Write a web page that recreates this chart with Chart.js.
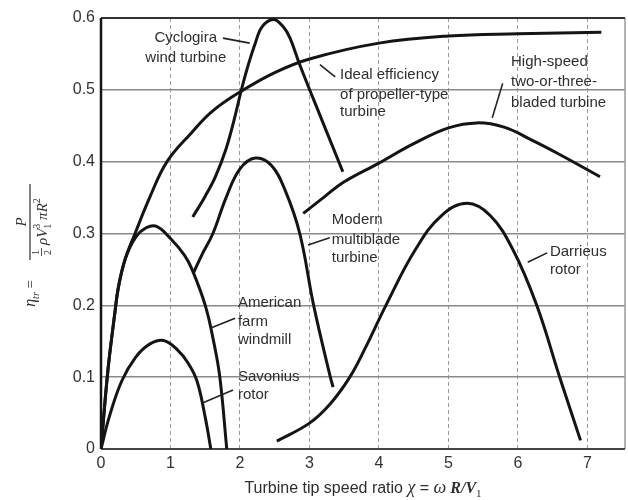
<!DOCTYPE html>
<html>
<head>
<meta charset="utf-8">
<script src="https://cdn.jsdelivr.net/npm/chart.js@4/dist/chart.umd.min.js"></script>
<style>
  body { margin: 0; background: #fff; }
  #c { display: block; }
</style>
</head>
<body>
<canvas id="c" width="628" height="500"></canvas>
<script>
// tick labels
var xTicks = [0, 1, 2, 3, 4, 5, 6, 7];
var yTicks = [0, 0.1, 0.2, 0.3, 0.4, 0.5, 0.6];

// curves, [tip speed ratio, efficiency]
var idealPropeller = [[0, 0], [0.1, 0.11], [0.2, 0.19], [0.25, 0.225], [0.35, 0.265], [0.49, 0.3], [0.7, 0.35],
  [0.95, 0.4], [1.3, 0.44], [1.6, 0.47], [2.0, 0.497], [2.5, 0.524], [3, 0.543], [4, 0.565], [5, 0.575],
  [6, 0.578], [7.2, 0.58]];
var cyclogira = [[1.32, 0.323], [1.5, 0.352], [1.65, 0.38], [1.8, 0.418], [1.92, 0.46], [2.02, 0.5],
  [2.12, 0.535], [2.22, 0.565], [2.32, 0.588], [2.48, 0.598], [2.62, 0.588], [2.72, 0.572], [2.86, 0.535],
  [3.17, 0.46], [3.48, 0.386]];
var highSpeed = [[2.91, 0.328], [3.2, 0.35], [3.5, 0.372], [4, 0.398], [4.5, 0.425], [5, 0.447], [5.41, 0.454],
  [5.8, 0.448], [6.2, 0.43], [6.6, 0.41], [7.18, 0.379]];
var multiblade = [[1.33, 0.245], [1.45, 0.27], [1.61, 0.3], [1.8, 0.35], [2.0, 0.39], [2.22, 0.405], [2.45, 0.395],
  [2.65, 0.36], [2.86, 0.3], [3.06, 0.2], [3.3, 0.1], [3.34, 0.086]];
var darrieus = [[2.53, 0.011], [3, 0.036], [3.3, 0.063], [3.58, 0.1], [3.8, 0.14], [4.1, 0.2], [4.52, 0.277],
  [4.9, 0.325], [5.27, 0.342], [5.6, 0.325], [5.93, 0.277], [6.27, 0.2], [6.6, 0.1], [6.9, 0.012]];
var farmWindmill = [[0, 0], [0.1, 0.11], [0.2, 0.19], [0.25, 0.225], [0.35, 0.265], [0.5, 0.295], [0.65, 0.308],
  [0.8, 0.31], [1.0, 0.293], [1.2, 0.27], [1.31, 0.25], [1.5, 0.2], [1.62, 0.15], [1.71, 0.1], [1.81, 0]];
var savonius = [[0, 0], [0.12, 0.045], [0.3, 0.095], [0.5, 0.128], [0.7, 0.146], [0.9, 0.151], [1.1, 0.138],
  [1.25, 0.12], [1.38, 0.095], [1.5, 0.044], [1.58, 0]];

// curve labels with leader lines (data coords)
var notes = [
  { lines: ['Cyclogira', 'wind turbine'], x: 1.22, y: [0.572, 0.544], align: 'center', lead: [1.755, 0.572, 2.14, 0.565] },
  { lines: ['Ideal efficiency', 'of propeller-type', 'turbine'], x: 3.44, y: [0.521, 0.493, 0.469], align: 'left', lead: [3.37, 0.518, 3.15, 0.535] },
  { lines: ['High-speed', 'two-or-three-', 'bladed turbine'], x: 5.9, y: [0.539, 0.511, 0.482], align: 'left', lead: [5.78, 0.509, 5.63, 0.461] },
  { lines: ['Modern', 'multiblade', 'turbine'], x: 3.32, y: [0.319, 0.291, 0.266], align: 'left', lead: [3.29, 0.294, 2.98, 0.284] },
  { lines: ['Darrieus', 'rotor'], x: 6.46, y: [0.274, 0.249], align: 'left', lead: [6.42, 0.273, 6.14, 0.26] },
  { lines: ['American', 'farm', 'windmill'], x: 1.97, y: [0.204, 0.177, 0.152], align: 'left', lead: [1.93, 0.182, 1.57, 0.168] },
  { lines: ['Savonius', 'rotor'], x: 1.97, y: [0.1, 0.075], align: 'left', lead: [1.9, 0.082, 1.46, 0.064] }
];

var ink = '#141414';
var textCol = '#2e2e2e';
var sans = '"Liberation Sans", Arial, sans-serif';
var serif = '"Liberation Serif", "Times New Roman", serif';

function toPts(arr) {
  return arr.map(function(p) { return { x: p[0], y: p[1] }; });
}

function curve(name, arr) {
  return {
    label: name,
    data: toPts(arr),
    showLine: true,
    borderColor: ink,
    borderWidth: 3,
    pointRadius: 0,
    tension: 0.4,
    fill: false
  };
}

// draws a row of text pieces with their own font and vertical shift
function drawRuns(ctx, runs, x, y) {
  runs.forEach(function(r) {
    ctx.font = r.font;
    ctx.fillText(r.t, x, y + (r.dy || 0));
    if (!r.noAdvance) x += ctx.measureText(r.t).width;
  });
  return x;
}
function runsWidth(ctx, runs) {
  var w = 0;
  runs.forEach(function(r) {
    ctx.font = r.font;
    if (!r.noAdvance) w += ctx.measureText(r.t).width;
  });
  return w;
}

var decor = {
  id: 'decor',
  beforeDatasetsDraw: function(chart) {
    var ctx = chart.ctx, a = chart.chartArea;
    ctx.save();
    // frame
    ctx.strokeStyle = '#9a9a9a';
    ctx.lineWidth = 1.5;
    ctx.beginPath(); ctx.moveTo(a.right, a.top); ctx.lineTo(a.right, a.bottom); ctx.stroke();
    ctx.strokeStyle = '#333';
    ctx.lineWidth = 2;
    ctx.beginPath(); ctx.moveTo(a.left, a.top); ctx.lineTo(a.right, a.top); ctx.stroke();
    ctx.strokeStyle = '#444';
    ctx.beginPath(); ctx.moveTo(a.left, a.bottom); ctx.lineTo(a.right, a.bottom); ctx.stroke();
    ctx.strokeStyle = ink;
    ctx.lineWidth = 2.5;
    ctx.beginPath(); ctx.moveTo(a.left, a.top); ctx.lineTo(a.left, a.bottom); ctx.stroke();
    ctx.restore();
  },
  afterDatasetsDraw: function(chart) {
    var ctx = chart.ctx, xs = chart.scales.x, ys = chart.scales.y;
    ctx.save();
    // curve labels
    ctx.fillStyle = textCol;
    ctx.font = '15px ' + sans;
    ctx.textBaseline = 'middle';
    notes.forEach(function(n) {
      ctx.textAlign = n.align;
      n.lines.forEach(function(line, i) {
        ctx.fillText(line, xs.getPixelForValue(n.x), ys.getPixelForValue(n.y[i]));
      });
      ctx.strokeStyle = '#222';
      ctx.lineWidth = 1.6;
      ctx.beginPath();
      ctx.moveTo(xs.getPixelForValue(n.lead[0]), ys.getPixelForValue(n.lead[1]));
      ctx.lineTo(xs.getPixelForValue(n.lead[2]), ys.getPixelForValue(n.lead[3]));
      ctx.stroke();
    });

    // x axis title
    ctx.textAlign = 'left';
    ctx.textBaseline = 'alphabetic';
    var xr = [
      { t: 'Turbine tip speed ratio ', font: '16px ' + sans },
      { t: 'χ', font: 'italic 18px ' + serif },
      { t: ' = ', font: '16px ' + sans },
      { t: 'ω', font: 'italic 18px ' + serif },
      { t: ' R/V', font: 'italic bold 16px ' + serif },
      { t: '1', font: '11px ' + serif, dy: 4 }
    ];
    var w = runsWidth(ctx, xr);
    drawRuns(ctx, xr, 363 - w / 2, 493);

    // y axis title, rotated
    ctx.translate(30, 222);
    ctx.rotate(-Math.PI / 2);
    ctx.strokeStyle = textCol;
    ctx.lineWidth = 1.2;
    ctx.beginPath(); ctx.moveTo(-38, 0); ctx.lineTo(38, 0); ctx.stroke();
    ctx.textAlign = 'center';
    ctx.font = 'italic 15px ' + serif;
    ctx.fillText('P', 0, -4);
    ctx.textAlign = 'left';
    // ½ stacked
    var dx = -33;
    ctx.font = '10px ' + serif;
    ctx.fillText('1', dx, 9);
    ctx.fillText('2', dx, 21);
    ctx.lineWidth = 0.8;
    ctx.beginPath(); ctx.moveTo(dx - 1, 11.5); ctx.lineTo(dx + 7, 11.5); ctx.stroke();
    var den = [
      { t: 'ρV', font: 'italic 15px ' + serif },
      { t: '3', font: '10px ' + serif, dy: -7, noAdvance: true },
      { t: '1', font: '10px ' + serif, dy: 4 },
      { t: ' π', font: 'italic 15px ' + serif },
      { t: 'R', font: 'italic 15px ' + serif },
      { t: '2', font: '10px ' + serif, dy: -7 }
    ];
    drawRuns(ctx, den, dx + 10, 17);
    var lhs = [
      { t: 'η', font: 'italic 16px ' + serif },
      { t: 'tr', font: 'italic 10px ' + serif, dy: 4 },
      { t: ' =', font: '15px ' + serif }
    ];
    var lw = runsWidth(ctx, lhs);
    drawRuns(ctx, lhs, -58 - lw, 5);
    ctx.restore();
  }
};

var ctx = document.getElementById('c').getContext('2d');
var chart = new Chart(ctx, {
  type: 'scatter',
  data: {
    datasets: [
      curve('Ideal efficiency of propeller-type turbine', idealPropeller),
      curve('Cyclogira wind turbine', cyclogira),
      curve('High-speed two-or-three-bladed turbine', highSpeed),
      curve('Modern multiblade turbine', multiblade),
      curve('Darrieus rotor', darrieus),
      curve('American farm windmill', farmWindmill),
      curve('Savonius rotor', savonius)
    ]
  },
  options: {
    responsive: false,
    animation: false,
    layout: { padding: { top: 18, right: 3, left: 0, bottom: 0 } },
    plugins: {
      legend: { display: false },
      tooltip: { enabled: false }
    },
    scales: {
      x: {
        type: 'linear',
        min: 0,
        max: 7.54,
        afterBuildTicks: function(s) { s.ticks = xTicks.map(function(v) { return { value: v }; }); },
        afterFit: function(s) { s.height = 51; },
        ticks: {
          color: '#333',
          font: { family: sans, size: 16 },
          padding: 5,
          maxRotation: 0,
          callback: function(v) { return String(v); }
        },
        grid: {
          drawTicks: false,
          lineWidth: 1,
          color: function(c) { return c.tick && c.tick.value === 0 ? 'rgba(0,0,0,0)' : '#9a9a9a'; }
        },
        border: { display: false, dash: [4, 3] }
      },
      y: {
        type: 'linear',
        min: 0,
        max: 0.6,
        afterBuildTicks: function(s) { s.ticks = yTicks.map(function(v) { return { value: v }; }); },
        afterFit: function(s) { s.width = 101; },
        ticks: {
          color: '#333',
          font: { family: sans, size: 16 },
          padding: 6,
          callback: function(v) { return v === 0 ? '0' : v.toFixed(1); }
        },
        grid: {
          drawTicks: false,
          lineWidth: 1.5,
          color: function(c) {
            var v = c.tick ? c.tick.value : 0;
            return (v === 0 || v === 0.6) ? 'rgba(0,0,0,0)' : '#8a8a8a';
          }
        },
        border: { display: false }
      }
    }
  },
  plugins: [decor]
});
</script>
</body>
</html>
